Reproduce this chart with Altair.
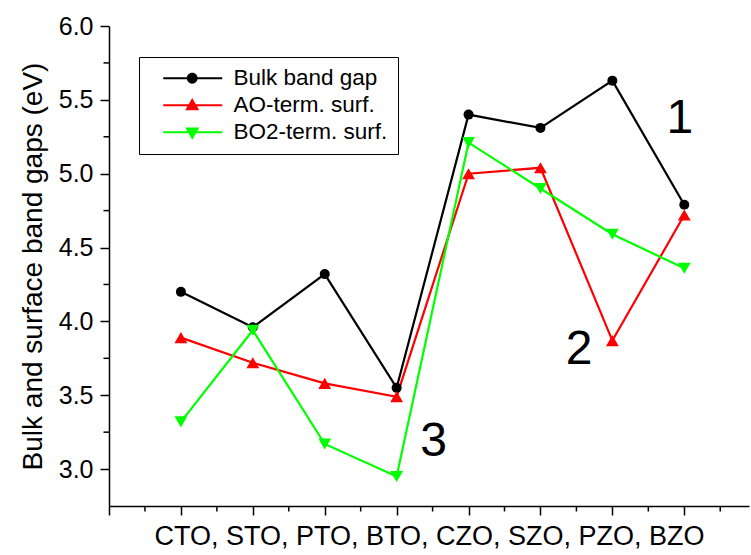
import altair as alt
import pandas as pd

categories = ["CTO", "STO", "PTO", "BTO", "CZO", "SZO", "PZO", "BZO"]
series = ["Bulk band gap", "AO-term. surf.", "BO2-term. surf."]
bulk = [4.20, 3.96, 4.32, 3.55, 5.40, 5.31, 5.63, 4.79]
ao_term = [3.89, 3.72, 3.58, 3.49, 5.00, 5.04, 3.87, 4.72]
bo2_term = [3.32, 3.94, 3.17, 2.95, 5.21, 4.90, 4.59, 4.36]

x_major = [-1, 0, 1, 2, 3, 4, 5, 6, 7]
x_minor = [-0.5, 0.5, 1.5, 2.5, 3.5, 4.5, 5.5, 6.5, 7.5]
y_major = [3.0, 3.5, 4.0, 4.5, 5.0, 5.5, 6.0]
y_minor = [3.25, 3.75, 4.25, 4.75, 5.25, 5.75]

ann_text = ["1", "2", "3"]
ann_x = [6.94, 5.536, 3.515]
ann_y = [5.274, 3.710, 3.087]

x_title = "CTO, STO, PTO, BTO, CZO, SZO, PZO, BZO"
y_title = "Bulk and surface band gaps (eV)"

# styles
colors = ["#000000", "#ff0000", "#00ff00"]
shapes = ["circle", "triangle-up", "triangle-down"]
marker_sizes = [100, 165, 165]
legend_paths = [
    "M0.5,-0.17H10.33V0.17H0.5Z M4.43,0A0.9,0.9 0 1 1 6.23,0A0.9,0.9 0 1 1 4.43,0Z",
    "M0.5,-0.17H10.33V0.17H0.5Z M5.33,-1.2L6.5,0.85L4.16,0.85Z",
    "M0.5,-0.17H10.33V0.17H0.5Z M5.33,1.25L4.16,-0.8L6.5,-0.8Z",
]
FONT = "Liberation Sans"

rows = []
for s, vals, col, sh, ms in zip(series, [bulk, ao_term, bo2_term], colors, shapes, marker_sizes):
    for i, (cat, v) in enumerate(zip(categories, vals)):
        rows.append({"series": s, "pos": i, "cat": cat, "gap": v,
                     "col": col, "shape": sh, "msize": ms})
df = pd.DataFrame(rows)

xs = alt.Scale(domain=[-1, 7.9], nice=False, zero=False)
ys = alt.Scale(domain=[2.75, 6.0], nice=False, zero=False)

x_axis = alt.Axis(values=x_major, labels=False, tickSize=9, grid=False,
                  title=x_title, titleFontSize=27, titlePadding=8)
y_axis = alt.Axis(values=y_major, format=".1f", tickSize=9, grid=False,
                  labelFontSize=25, labelPadding=7,
                  title=y_title, titleFontSize=28, titlePadding=11)

def X(field):
    return alt.X(field, scale=xs, axis=x_axis, title=x_title)

def Y(field):
    return alt.Y(field, scale=ys, axis=y_axis, title=y_title)

lines = alt.Chart(df).mark_line(strokeWidth=2.2).encode(
    x=X("pos:Q"), y=Y("gap:Q"),
    color=alt.Color("col:N", scale=None),
    detail="series:N",
)

points = alt.Chart(df).mark_point(filled=True, opacity=1).encode(
    x=X("pos:Q"), y=Y("gap:Q"),
    color=alt.Color("col:N", scale=None),
    shape=alt.Shape("shape:N", scale=None),
    size=alt.Size("msize:Q", scale=None),
)

leg = alt.Legend(
    title=None, orient="none", legendX=30, legendY=31,
    strokeColor="black", fillColor="white", padding=10,
    labelFont=FONT, labelFontSize=22.5, labelColor="black",
    labelOffset=62, rowPadding=4, symbolSize=144, symbolStrokeWidth=0,
    symbolOpacity=1,
)
legend_layer = alt.Chart(df).transform_filter("false").mark_point(filled=True, opacity=1).encode(
    x=X("pos:Q"), y=Y("gap:Q"),
    color=alt.Color("series:N", scale=alt.Scale(domain=series, range=colors), legend=leg),
    shape=alt.Shape("series:N", scale=alt.Scale(domain=series, range=legend_paths), legend=leg),
)

xminor = alt.Chart(pd.DataFrame({"pos": x_minor})).mark_rule(color="black", strokeWidth=1.5).encode(
    x=X("pos:Q"),
    y=alt.value(480), y2=alt.value(485.5),
)
yminor = alt.Chart(pd.DataFrame({"gap": y_minor})).mark_rule(color="black", strokeWidth=1.5).encode(
    y=Y("gap:Q"),
    x=alt.value(0), x2=alt.value(-5.5),
)

ann = alt.Chart(pd.DataFrame({"pos": ann_x, "gap": ann_y, "t": ann_text})).mark_text(
    fontSize=48, font=FONT, baseline="alphabetic", align="center", color="black"
).encode(
    x=X("pos:Q"), y=Y("gap:Q"),
    text="t:N",
)

chart = alt.layer(lines, points, legend_layer, xminor, yminor, ann).properties(
    width=640, height=480,
    autosize=alt.AutoSizeParams(type="none"),
    padding={"left": 109, "top": 26, "right": 2, "bottom": 49},
    background="white",
).configure_view(stroke=None).configure_axis(
    domainColor="black", domainWidth=1.5, tickColor="black", tickWidth=1.5,
    labelFont=FONT, titleFont=FONT, labelColor="black", titleColor="black",
    titleFontWeight="normal",
).configure_text(font=FONT)

chart.save("out.html", embed_options={"renderer": "svg", "actions": False})
